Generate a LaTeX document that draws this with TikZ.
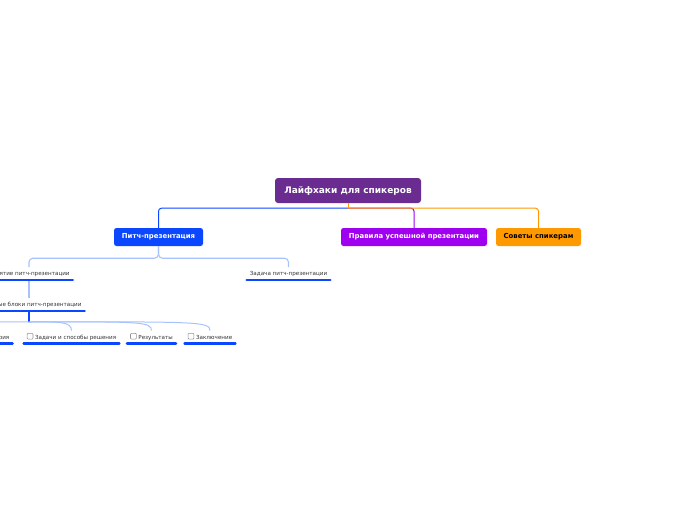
\documentclass[tikz,border=0pt]{standalone}
\usepackage{fontspec}
\setmainfont{DejaVu Sans}
\usetikzlibrary{calc}
\definecolor{rootc}{HTML}{6A2C91}
\definecolor{bluec}{HTML}{0A47FF}
\definecolor{purpc}{HTML}{A000F0}
\definecolor{orngc}{HTML}{FF9900}
\definecolor{lightc}{HTML}{A8C2FF}
\definecolor{ulc}{HTML}{0A47FF}
\newcommand\cbx{\tikz[baseline=-0.2pt]\draw[gray!85,line width=0.6pt,rounded corners=0.9pt] (0pt,0pt) rectangle (5.8pt,5.8pt);\hspace{1.8pt}}
\begin{document}
\begin{tikzpicture}[x=1pt,y=-1pt,
  topbox/.style={rounded corners=3pt,inner sep=0pt,text=white,
    font=\bfseries\fontsize{9}{9}\selectfont},
  mainbox/.style={rounded corners=2.5pt,inner sep=0pt,minimum height=18pt,
    font=\bfseries\fontsize{6.9}{6.9}\selectfont},
  leaf/.style={anchor=south,inner xsep=4pt,inner ysep=2.5pt,text height=6pt,
    text depth=1.5pt,font=\fontsize{5.6}{5.6}\selectfont,text=black!80},
  uline/.style={draw=ulc,line width=2.6pt,line cap=round},
  conn/.style={line width=1pt,rounded corners=3pt},
  lconn/.style={draw=lightc,line width=1.1pt,rounded corners=4pt},
]
\useasboundingbox (0,0) rectangle (696,520);
\clip (0,0) rectangle (696,520);

% nodes
\node[topbox,fill=rootc,minimum width=146pt,minimum height=25pt] (root) at (348,190.5) {Лайфхаки для спикеров};
\node[mainbox,fill=bluec,text=white,minimum width=89pt] (pitch) at (158.5,237) {Питч-презентация};
\node[mainbox,fill=purpc,text=white,minimum width=146pt] (rules) at (414,237) {Правила успешной презентации};
\node[mainbox,fill=orngc,text=black,minimum width=85pt] (tips) at (538.5,237) {Советы спикерам};

\node[leaf] (pon) at (29,280) {Понятие питч-презентации};
\node[leaf] (zad) at (288.5,280) {Задача питч-презентации};
\node[leaf] (osn) at (29,311) {Основные блоки питч-презентации};
\coordinate (hub) at (29,322);
\coordinate (rj) at ($(root.south)+(0,5)$);

\node[leaf] (ist) at (-7,343.5) {\cbx История};
\node[leaf] (zsr) at (71.5,343.5) {\cbx Задачи и способы решения};
\node[leaf] (res) at (151.5,343.5) {\cbx Результаты};
\node[leaf] (zak) at (210,343.5) {\cbx Заключение};

% connectors level 1
\draw[conn,draw=bluec] (rj) -| (pitch.north);
\draw[conn,draw=purpc] (rj) -| (rules.north);
\draw[conn,draw=orngc] (rj) -| (tips.north);
\draw[draw=orngc,line width=1pt] (root.south) -- (rj);

% connectors level 2
\draw[lconn] (pitch.south) -- ++(0,12) -| (pon.north);
\draw[lconn] (pitch.south) -- ++(0,12) -| (zad.north);
\draw[lconn] (pon.south) -- (osn.north);
\draw[draw=bluec,line width=1.3pt] (osn.south) -- (hub);
\foreach \c in {ist,zsr,res,zak}{
  \draw[draw=lightc,line width=1pt] (hub) .. controls ($(\c.north)+(-12,-9)$) and ($(\c.north)+(0,-9)$) .. (\c.north);
}

% underlines
\foreach \n in {pon,zad,osn,ist,zsr,res,zak}{
  \draw[uline] ([xshift=1pt]\n.south west) -- ([xshift=-1pt]\n.south east);
}
\end{tikzpicture}
\end{document}
